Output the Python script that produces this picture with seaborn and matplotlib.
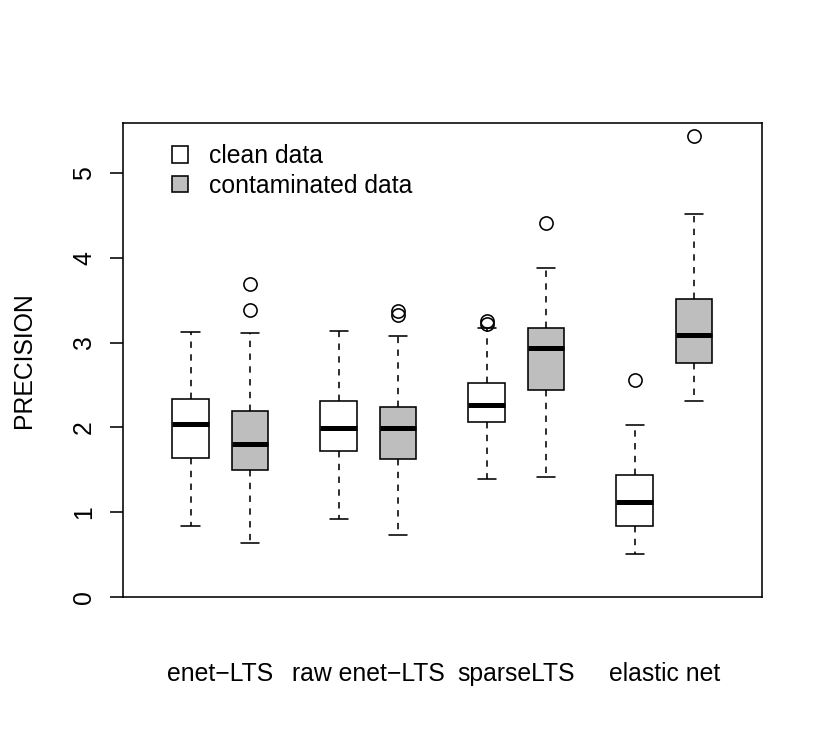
import matplotlib
matplotlib.use("Agg")
import matplotlib.pyplot as plt
from matplotlib.patches import Patch
import seaborn as sns

# group labels and box positions (R style: two boxes per method)
methods = ["enet\u2212LTS", "raw enet\u2212LTS", "sparseLTS", "elastic net"]
clean_pos = [1.0, 3.5, 6.0, 8.5]
cont_pos = [2.0, 4.5, 7.0, 9.5]

# clean data box statistics
clean_low = [0.84, 0.92, 1.39, 0.51]
clean_q1 = [1.64, 1.72, 2.06, 0.84]
clean_med = [2.04, 1.99, 2.27, 1.12]
clean_q3 = [2.33, 2.31, 2.52, 1.44]
clean_high = [3.12, 3.14, 3.17, 2.03]
clean_out = [[], [], [3.26, 3.22], [2.56]]

# contaminated data box statistics
cont_low = [0.64, 0.73, 1.42, 2.31]
cont_q1 = [1.50, 1.63, 2.44, 2.76]
cont_med = [1.80, 1.99, 2.94, 3.09]
cont_q3 = [2.19, 2.24, 3.17, 3.52]
cont_high = [3.11, 3.08, 3.88, 4.52]
cont_out = [[3.69, 3.38], [3.37, 3.33], [4.41], [5.44]]

sns.set_theme(style="white")
fs = 17.8
plt.rcParams["font.family"] = ["Liberation Sans", "DejaVu Sans"]
plt.rcParams.update({"font.size": fs, "xtick.labelsize": fs, "ytick.labelsize": fs,
                     "axes.labelsize": fs, "legend.fontsize": fs,
                     "text.color": "black", "axes.labelcolor": "black",
                     "xtick.color": "black", "ytick.color": "black"})

fig = plt.figure(figsize=(8.25, 7.5), dpi=100)
ax = fig.add_axes([0.1491, 0.204, 0.7745, 0.632])


def make_stats(low, q1, med, q3, high, out):
    return [dict(whislo=a, q1=b, med=c, q3=d, whishi=e, fliers=f)
            for a, b, c, d, e, f in zip(low, q1, med, q3, high, out)]


lw = 1.15
common = dict(
    widths=0.62,
    capwidths=0.31,
    patch_artist=True,
    whiskerprops=dict(color="black", lw=lw, linestyle=(0, (4, 4))),
    capprops=dict(color="black", lw=lw),
    medianprops=dict(color="black", lw=3.6, solid_capstyle="butt"),
    flierprops=dict(marker="o", markersize=9.5, markerfacecolor="none",
                    markeredgecolor="black", markeredgewidth=lw),
)

ax.bxp(make_stats(clean_low, clean_q1, clean_med, clean_q3, clean_high, clean_out),
       positions=clean_pos,
       boxprops=dict(facecolor="white", edgecolor="black", lw=lw), **common)
ax.bxp(make_stats(cont_low, cont_q1, cont_med, cont_q3, cont_high, cont_out),
       positions=cont_pos,
       boxprops=dict(facecolor="#BEBEBE", edgecolor="black", lw=lw), **common)

ax.set_xlim(-0.142, 10.647)
ax.set_ylim(0, 5.59)

mids = [(a + b) / 2 for a, b in zip(clean_pos, cont_pos)]
ax.set_xticks(mids)
ax.set_xticklabels(methods)
ax.tick_params(axis="x", length=0, pad=47)

ax.set_yticks([0, 1, 2, 3, 4, 5])
ax.set_yticklabels(["0", "1", "2", "3", "4", "5"], rotation=90, va="center")
ax.tick_params(axis="y", left=True, length=9.5, width=lw, direction="out",
               pad=10, colors="black")
ax.set_ylabel("PRECISION", labelpad=26)

for s in ax.spines.values():
    s.set_visible(True)
    s.set_color("black")
    s.set_linewidth(lw)

handles = [Patch(facecolor="white", edgecolor="black", lw=lw, label="clean data"),
           Patch(facecolor="#BEBEBE", edgecolor="black", lw=lw, label="contaminated data")]
ax.legend(handles=handles, loc="upper left", bbox_to_anchor=(0.05, 0.992),
          frameon=False, handlelength=0.65, handleheight=0.65,
          handletextpad=0.82, labelspacing=0.23, borderaxespad=0.3)

fig.savefig("out.png", dpi=100)
